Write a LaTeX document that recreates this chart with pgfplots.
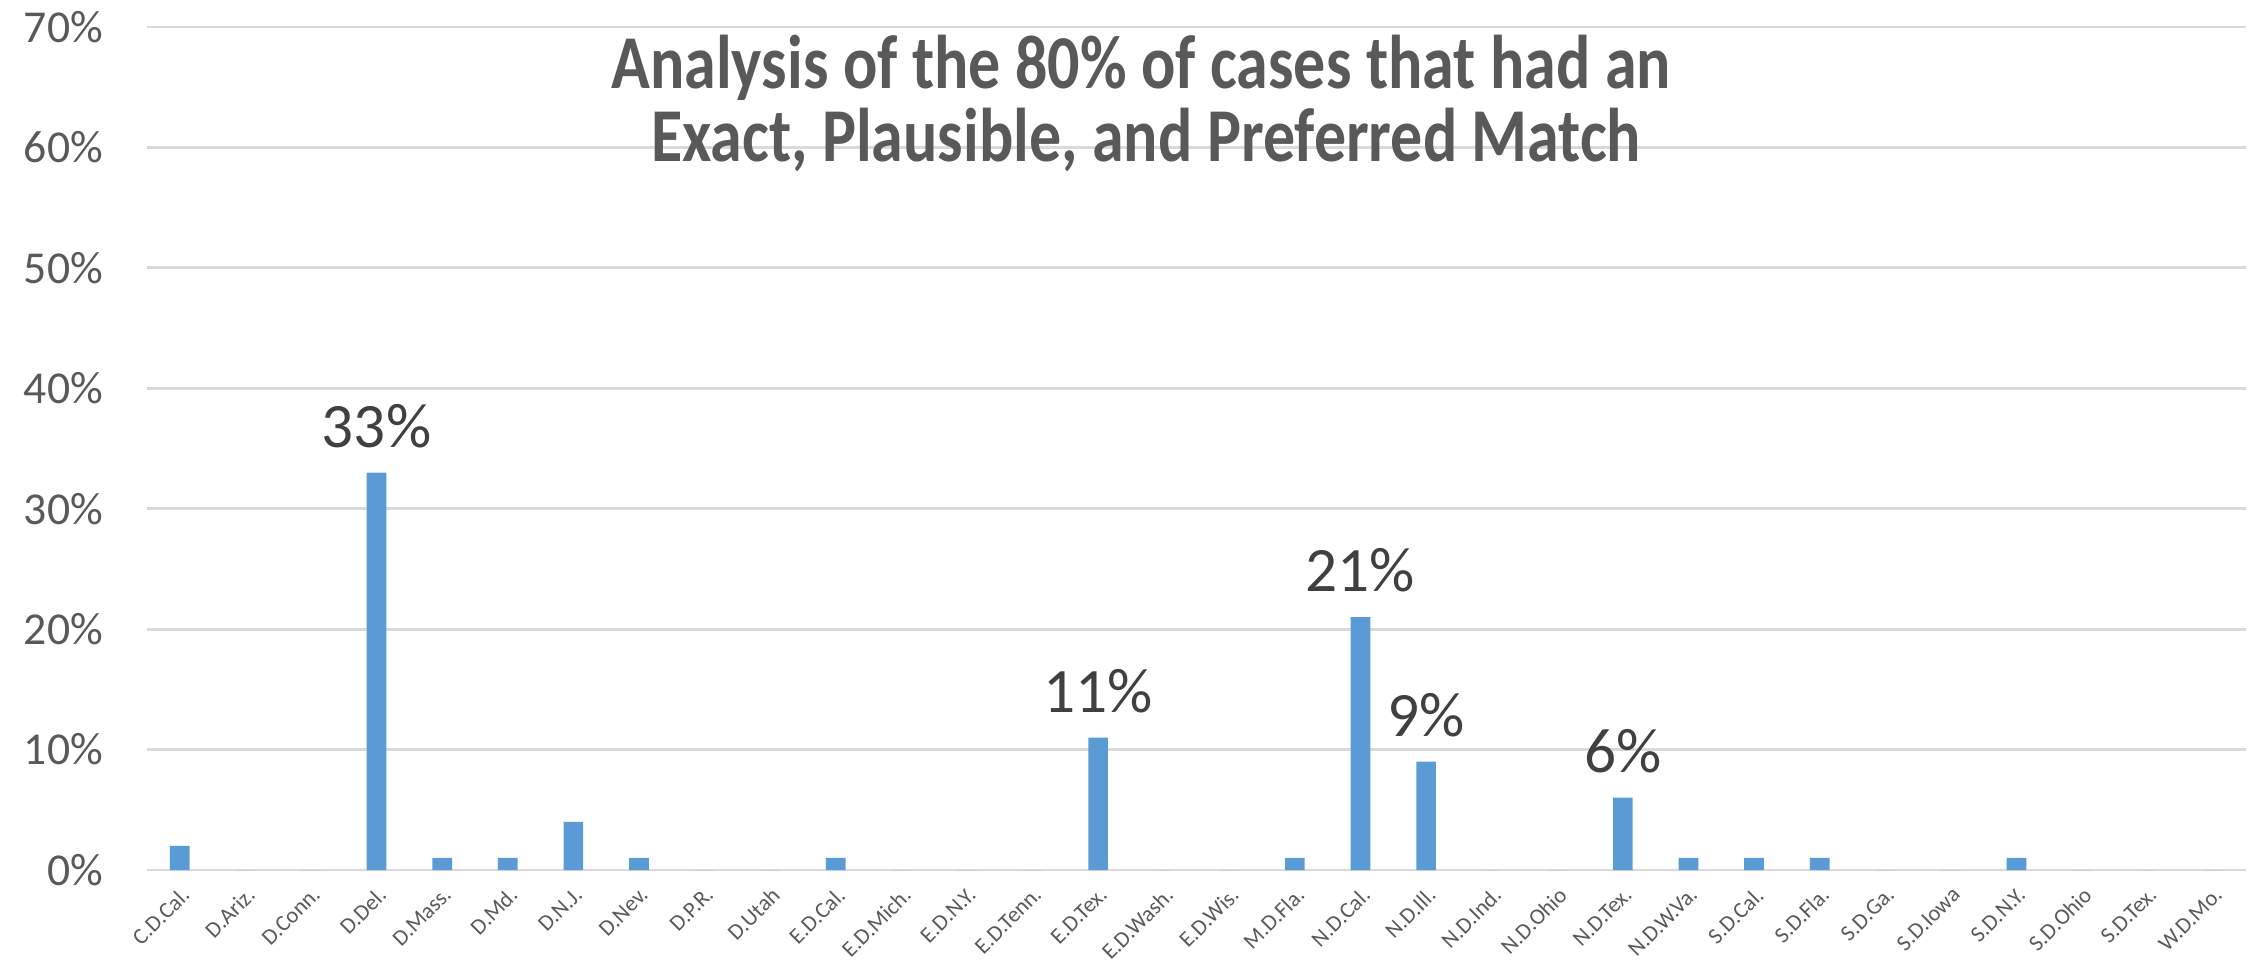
\documentclass[border=0pt]{standalone}
\usepackage{fontspec}
\setmainfont{Carlito}
\usepackage{pgfplots}
\pgfplotsset{compat=1.18}
\definecolor{barblue}{HTML}{5B9BD5}
\definecolor{gridgray}{HTML}{D9D9D9}
\definecolor{ticktext}{HTML}{595959}
\definecolor{labeltext}{HTML}{404040}
\begin{document}
\begin{tikzpicture}
\useasboundingbox (-14.7mm,-10.3mm) rectangle (210.8mm,87.0mm);
\begin{axis}[
 scale only axis, width=209.9mm, height=84.3mm,
 at={(0,0)}, anchor=south west,
 xmin=-0.5, xmax=31.5, ymin=0, ymax=70,
 ytick={0,10,...,70},
 yticklabel={\pgfmathprintnumber{\tick}\%},
 /pgf/number format/assume math mode=true,
 yticklabel style={font=\fontsize{13}{15}\selectfont, text=ticktext, xshift=-9pt},
 xtick={0,...,31},
 xticklabels={C.D.Cal., D.Ariz., D.Conn., D.Del., D.Mass., D.Md., D.N.J., D.Nev., D.P.R., D.Utah, E.D.Cal., E.D.Mich., E.D.N.Y., E.D.Tenn., E.D.Tex., E.D.Wash., E.D.Wis., M.D.Fla., N.D.Cal., N.D.Ill., N.D.Ind., N.D.Ohio, N.D.Tex., N.D.W.Va., S.D.Cal., S.D.Fla., S.D.Ga., S.D.Iowa, S.D.N.Y., S.D.Ohio, S.D.Tex., W.D.Mo.},
 xticklabel style={font=\fontsize{6.4}{8}\selectfont, text=ticktext, anchor=north east, inner sep=3pt, rotate=45},
 major tick length=0,
 axis line style={draw=none},
 ymajorgrids, grid style={gridgray, line width=0.8pt},
 ybar, bar width=0.3, bar shift=0pt,
 nodes near coords, point meta=explicit symbolic,
 nodes near coords style={font=\fontsize{18}{20}\selectfont, text=labeltext, anchor=south, yshift=3.5pt},
 clip=false,
]
\addplot[fill=barblue, draw=none] table[x=x, y=y, meta=lab] {
x y lab
0 2 {}
1 0 {}
2 0 {}
3 33 33\%
4 1 {}
5 1 {}
6 4 {}
7 1 {}
8 0 {}
9 0 {}
10 1 {}
11 0 {}
12 0 {}
13 0 {}
14 11 11\%
15 0 {}
16 0 {}
17 1 {}
18 21 21\%
19 9 9\%
20 0 {}
21 0 {}
22 6 6\%
23 1 {}
24 1 {}
25 1 {}
26 0 {}
27 0 {}
28 1 {}
29 0 {}
30 0 {}
31 0 {}
};
\node[anchor=base, text=ticktext, font=\fontsize{18.2}{20}\selectfont\bfseries, yscale=1.19] at (rel axis cs:0.4736,0.9265) {Analysis of the 80\% of cases that had an};
\node[anchor=base, text=ticktext, font=\fontsize{18.2}{20}\selectfont\bfseries, yscale=1.19] at (rel axis cs:0.476,0.841) {Exact, Plausible, and Preferred Match};
\end{axis}
\end{tikzpicture}
\end{document}
